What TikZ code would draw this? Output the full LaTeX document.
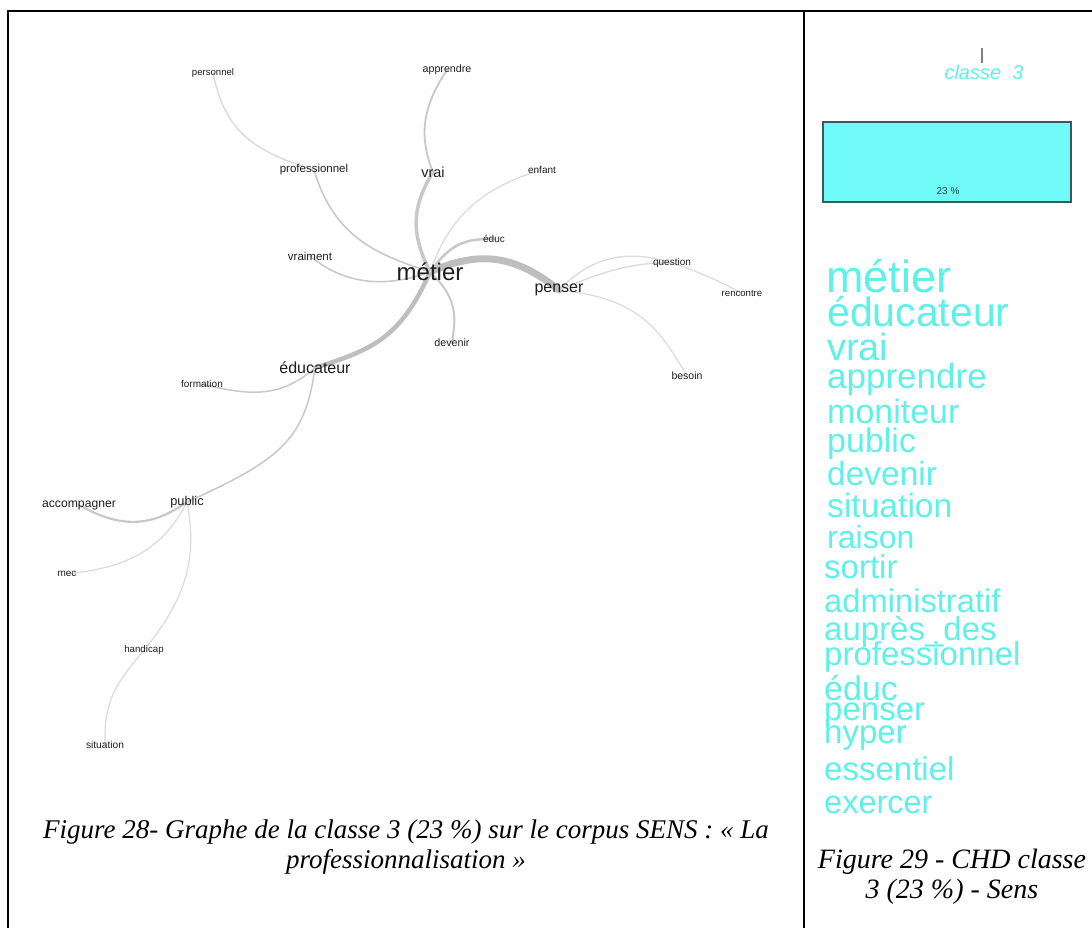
\documentclass[tikz,border=0pt]{standalone}
\usepackage{fontspec}
\setmainfont{Liberation Serif}
\newfontfamily\arialf{Liberation Sans}
\newcommand\myfs[1]{\fontsize{#1}{#1}\selectfont}
\definecolor{labelgray}{RGB}{30,30,30}
\definecolor{gthick}{RGB}{190,190,190}
\definecolor{gmid}{RGB}{200,200,200}
\definecolor{glight}{RGB}{218,218,218}
\definecolor{wcyan}{RGB}{95,240,232}
\definecolor{boxcyan}{RGB}{112,250,248}
\definecolor{boxedge}{RGB}{60,90,90}
\definecolor{pcttext}{RGB}{30,70,70}
\pgfdeclarelayer{bg}
\pgfsetlayers{bg,main}
\tikzset{
  lbl/.style={font=\arialf\myfs{#1}, text=labelgray, inner sep=0pt},
  lnk/.style={draw=#1, line cap=round, fill=none},
  wordl/.style={font=\arialf\myfs{#1}, text=wcyan, inner sep=0pt, anchor=base west},
  capt/.style={font=\itshape\fontsize{#1}{30}\selectfont, align=center, inner sep=0pt, text=black},
  frameline/.style={line width=2.5pt, draw=black}
}
\begin{document}
\begin{tikzpicture}[x=1pt,y=-1pt]
\useasboundingbox (0,0) rectangle (1092,928);
% frame
\draw[frameline] (8,928) -- (8,11) -- (1092,11);
\draw[frameline] (804,11) -- (804,928);

% graph labels
\node[lbl=9.6]  (personnel) at (213,73) {personnel};
\node[lbl=10.7] (apprendre) at (447,70) {apprendre};
\node[lbl=11.5] (professionnel) at (314,170) {professionnel};
\node[lbl=14.5] (vrai) at (433,172) {vrai};
\node[lbl=10]   (enfant) at (542,170) {enfant};
\node[lbl=10]   (educ) at (494,239) {éduc};
\node[lbl=11.5] (vraiment) at (310,256) {vraiment};
\node[lbl=24]   (metier) at (430,272) {métier};
\node[lbl=16]   (penser) at (559,290) {penser};
\node[lbl=10.7] (devenir) at (452,343) {devenir};
\node[lbl=16]   (educateur) at (315,368) {éducateur};
\node[lbl=10]   (formation) at (202,384) {formation};
\node[lbl=10]   (question) at (672,263) {question};
\node[lbl=9.6]  (rencontre) at (742,293) {rencontre};
\node[lbl=10.5] (besoin) at (687,376) {besoin};
\node[lbl=12.2] (accompagner) at (79,505) {accompagner};
\node[lbl=12.8] (public) at (187,502) {public};
\node[lbl=10]   (mec) at (67,574) {mec};
\node[lbl=9.7]  (handicap) at (144,650) {handicap};
\node[lbl=10.2] (situation) at (105,745) {situation};

\begin{pgfonlayer}{bg}
\draw[lnk=gthick, line width=7pt] (metier.center) .. controls (480,250) and (515,255) .. (penser.center);
\draw[lnk=gthick, line width=4.5pt] (metier.center) .. controls (400,340) and (370,350) .. (educateur.center);
\draw[lnk=gmid, line width=3.5pt] (metier.center) .. controls (412,235) and (410,210) .. (vrai.center);
\draw[lnk=gmid, line width=1.8pt] (vrai.center) .. controls (420,140) and (420,110) .. (apprendre.center);
\draw[lnk=gmid, line width=2.5pt] (metier.center) .. controls (448,248) and (460,238) .. (educ.center);
\draw[lnk=gmid, line width=2pt] (metier.center) .. controls (460,300) and (455,320) .. (devenir.center);
\draw[lnk=gmid, line width=1.6pt] (metier.center) .. controls (380,255) and (335,240) .. (professionnel.center);
\draw[lnk=glight, line width=1.4pt] (professionnel.center) .. controls (250,150) and (225,130) .. (personnel.center);
\draw[lnk=gmid, line width=1.5pt] (metier.center) .. controls (385,288) and (345,285) .. (vraiment.center);
\draw[lnk=glight, line width=1.2pt] (metier.center) .. controls (445,230) and (470,190) .. (enfant.center);
\draw[lnk=glight, line width=1.3pt] (penser.center) .. controls (590,258) and (625,248) .. (question.center);
\draw[lnk=glight, line width=1.3pt] (penser.center) .. controls (600,273) and (630,262) .. (question.center);
\draw[lnk=glight, line width=1.2pt] (question.center) .. controls (700,272) and (720,282) .. (rencontre.center);
\draw[lnk=glight, line width=1.2pt] (penser.center) .. controls (640,298) and (660,330) .. (besoin.center);
\draw[lnk=gmid, line width=1.5pt] (educateur.center) .. controls (280,398) and (250,396) .. (formation.center);
\draw[lnk=gmid, line width=1.5pt] (educateur.center) .. controls (305,440) and (280,460) .. (public.center);
\draw[lnk=gmid, line width=2.2pt] (public.center) .. controls (150,528) and (120,528) .. (accompagner.center);
\draw[lnk=glight, line width=1.2pt] (public.center) .. controls (160,555) and (120,568) .. (mec.center);
\draw[lnk=glight, line width=1.2pt] (public.center) .. controls (198,560) and (185,600) .. (handicap.center);
\draw[lnk=glight, line width=1.2pt] (handicap.center) .. controls (115,685) and (104,700) .. (situation.center);
\end{pgfonlayer}

% right panel
\draw[line width=1.5pt, draw=gray] (982,48) -- (982,63);
\node[font=\arialf\itshape\myfs{20}, text=wcyan, inner sep=0pt, anchor=base] (classe) at (984,80) {classe\ \ 3};
\node[draw=boxedge, line width=1.2pt, fill=boxcyan, minimum width=248pt, minimum height=80pt, inner sep=0pt] (bar) at (947,162) {};
\node[font=\arialf\myfs{10}, text=pcttext, inner sep=0pt, anchor=base] (pct) at (948,195) {23 \%};

\node[wordl=45]   (w1) at (826,292) {métier};
\node[wordl=41]   (w2) at (827,326) {éducateur};
\node[wordl=38]   (w3) at (827,360) {vrai};
\node[wordl=35]   (w4) at (827,388) {apprendre};
\node[wordl=34]   (w5) at (827,423) {moniteur};
\node[wordl=34]   (w6) at (827,452) {public};
\node[wordl=33.5] (w7) at (827,485) {devenir};
\node[wordl=33.6] (w8) at (827,517) {situation};
\node[wordl=32]   (w9) at (827,548) {raison};
\node[wordl=33]   (w10) at (824,578) {sortir};
\node[wordl=32.7] (w11) at (824,612) {administratif};
\node[wordl=33]   (w12) at (824,640) {auprès\_des};
\node[wordl=33]   (w13) at (824,665) {professionnel};
\node[wordl=34]   (w14) at (824,700) {éduc};
\node[wordl=33]   (w15) at (824,720) {penser};
\node[wordl=33]   (w16) at (824,743) {hyper};
\node[wordl=33]   (w17) at (824,780) {essentiel};
\node[wordl=32.5] (w18) at (824,813) {exercer};

% captions
\node[capt=27] (cap28) at (406,847) {Figure 28- Graphe de la classe 3 (23 \%) sur le corpus SENS : « La\\professionnalisation »};
\node[capt=28] (cap29) at (952,877) {Figure 29 - CHD classe\\3 (23 \%) - Sens};
\end{tikzpicture}
\end{document}
